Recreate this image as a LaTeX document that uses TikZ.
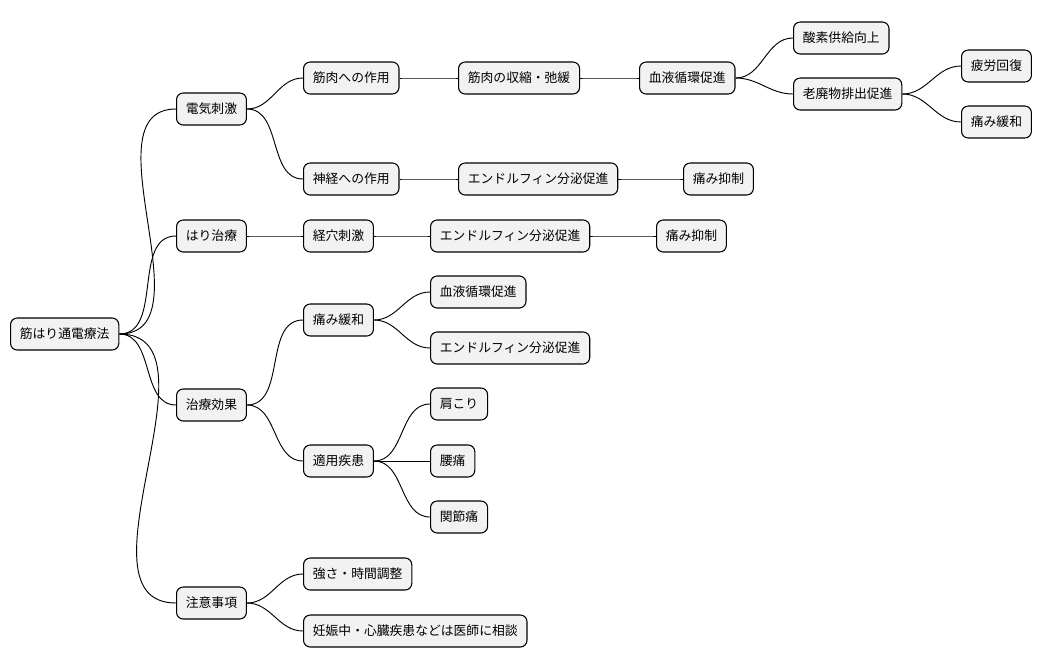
\documentclass[tikz,border=0pt]{standalone}
\usepackage{fontspec}
\setmainfont{Noto Sans CJK JP}
\tikzset{
  box/.style={draw=black,fill=gray!10,rounded corners=5pt,anchor=west,
    minimum height=24pt,inner xsep=7pt,font=\fontsize{9.6}{11}\selectfont,line width=0.8pt},
  link/.style={line width=0.7pt}
}
\begin{document}
\begin{tikzpicture}[x=0.75pt,y=-0.75pt]
  \useasboundingbox (0,0) rectangle (1048,668);
  % root and first level
  \node[box] (root) at (10,334) {筋はり通電療法};
  \node[box] (elec) at (176,109) {電気刺激};
  \node[box] (acu) at (176,236) {はり治療};
  \node[box] (eff) at (176,405) {治療効果};
  \node[box] (note) at (176,603) {注意事項};
  % second level
  \node[box] (mus) at (303,78) {筋肉への作用};
  \node[box] (ner) at (303,179) {神経への作用};
  \node[box] (pt) at (303,236) {経穴刺激};
  \node[box] (pain) at (303,320) {痛み緩和};
  \node[box] (dis) at (303,461) {適用疾患};
  \node[box] (str) at (303,574) {強さ・時間調整};
  \node[box] (preg) at (303,631) {妊娠中・心臓疾患などは医師に相談};
  % deeper levels
  \node[box] (con) at (458,78) {筋肉の収縮・弛緩};
  \node[box] (blo) at (639,78) {血液循環促進};
  \node[box] (oxy) at (793,38) {酸素供給向上};
  \node[box] (was) at (793,94) {老廃物排出促進};
  \node[box] (fat) at (961,66) {疲労回復};
  \node[box] (rel) at (961,122) {痛み緩和};
  \node[box] (endA) at (458,179) {エンドルフィン分泌促進};
  \node[box] (supA) at (683,179) {痛み抑制};
  \node[box] (endB) at (430,236) {エンドルフィン分泌促進};
  \node[box] (supB) at (656,236) {痛み抑制};
  \node[box] (bloC) at (430,292) {血液循環促進};
  \node[box] (endC) at (430,348) {エンドルフィン分泌促進};
  \node[box] (sho) at (430,404) {肩こり};
  \node[box] (bac) at (430,461) {腰痛};
  \node[box] (joi) at (430,517) {関節痛};
  % connectors
  \foreach \p/\c in {root/elec,root/acu,root/eff,root/note,
      elec/mus,elec/ner,acu/pt,eff/pain,eff/dis,note/str,note/preg,
      mus/con,con/blo,blo/oxy,blo/was,was/fat,was/rel,
      ner/endA,endA/supA,pt/endB,endB/supB,
      pain/bloC,pain/endC,dis/sho,dis/bac,dis/joi} {
    \draw[link] (\p.east) to[out=0,in=180] (\c.west);
  }
\end{tikzpicture}
\end{document}
